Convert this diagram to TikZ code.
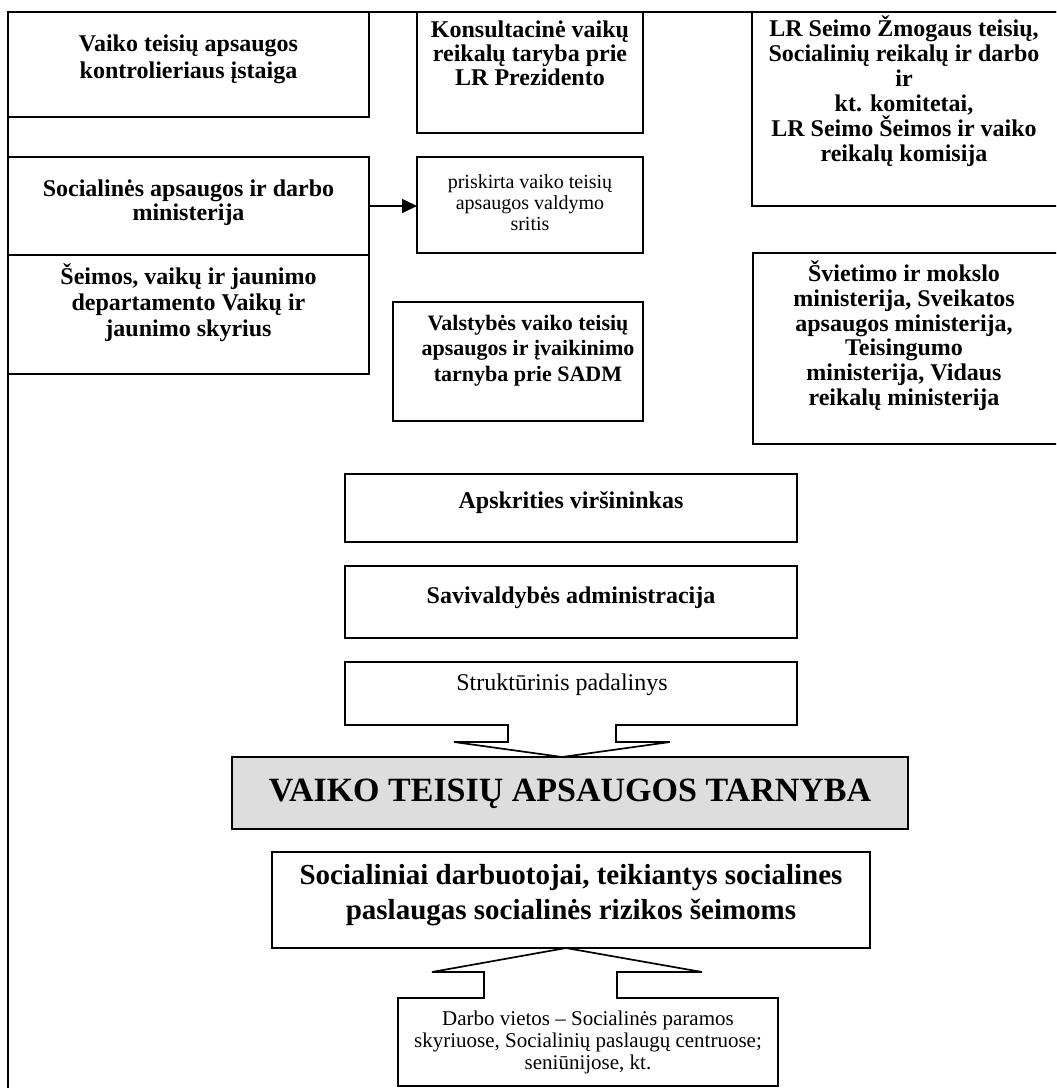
\documentclass[tikz,border=0pt]{standalone}
\usepackage{fontspec}
\setmainfont{Liberation Serif}
\usetikzlibrary{arrows.meta,fit}
\lineskiplimit=-30pt
\definecolor{tgray}{RGB}{221,221,221}
\newcommand\ftop{\rule{0pt}{0.95em}}
\begin{document}
\begin{tikzpicture}[x=0.5pt,y=-0.5pt,
  ln/.style={line width=0.85pt,line join=miter},
  bx/.style={draw,line width=0.85pt,inner sep=0pt,outer sep=0pt},
  hid/.style={inner sep=0pt,outer sep=0pt},
  bt/.style={inner sep=0pt,align=center,anchor=north,font=\fontsize{12}{#1}\selectfont\bfseries},
  bts/.style 2 args={inner sep=0pt,align=center,anchor=north,font=\fontsize{#1}{#2}\selectfont\bfseries},
  rt/.style 2 args={inner sep=0pt,align=center,anchor=north,font=\fontsize{#1}{#2}\selectfont}
]
\useasboundingbox (0,0) rectangle (1056,1088);
\clip (0,0) rectangle (1056,1088);
\fill[white] (0,0) rectangle (1056,1088);

% page frame
\draw[ln] (1070,12) -- (8,12) -- (8,1100);

% top row
\node[bx,fit={(8,12)(369,117)}] (vtak) {};
\node[bt=13.5pt] (vtakt) at (188.5,28.2) {\ftop Vaiko teisių apsaugos\\kontrolieriaus įstaiga};

\node[bx,fit={(417,12)(643,133)}] (konsult) {};
\node[bt=12pt] (konsultt) at (530,14.2) {\ftop Konsultacinė vaikų\\reikalų taryba prie\\LR Prezidento};

\node[bx,fit={(752,12)(1070,206)}] (lrs) {};
\node[bt=12.5pt] (lrst) at (904,13.2) {\ftop LR Seimo Žmogaus teisių,\\Socialinių reikalų ir darbo\\ir\\kt. komitetai,\\LR Seimo Šeimos ir vaiko\\reikalų komisija};

% second row
\node[bx,fit={(8,157)(369,255)}] (socmin) {};
\node[bt=12pt] (socmint) at (188.5,173.2) {\ftop Socialinės apsaugos ir darbo\\ministerija};

\node[bx,fit={(417,157)(643,253)}] (prisk) {};
\node[rt={10}{10.5}] (priskt) at (530,169) {\ftop priskirta vaiko teisių\\apsaugos valdymo\\sritis};

\draw[ln,-{Triangle[length=7.5pt,width=7pt]}] (socmin.east) -- (socmin.east -| prisk.west);

% third row
\node[bx,fit={(8,255)(369,374)}] (seimos) {};
\node[bt=13pt] (seimost) at (188.5,261.2) {\ftop Šeimos, vaikų ir jaunimo\\departamento Vaikų ir\\jaunimo skyrius};

\node[bx,fit={(393,302)(643,421)}] (valst) {};
\node[bts={11}{12.75}] (valstt) at (528,309.1) {\ftop Valstybės vaiko teisių\\apsaugos ir įvaikinimo\\tarnyba prie SADM};

\node[bx,fit={(753,253)(1070,444)}] (sviet) {};
\node[bt=12.4pt] (sviett) at (904,258.2) {\ftop Švietimo ir mokslo\\ministerija, Sveikatos\\apsaugos ministerija,\\Teisingumo\\ministerija, Vidaus\\reikalų ministerija};

% central column
\node[bx,fit={(345,474)(797,542)}] (apskr) {};
\node[bt=12pt] (apskrt) at (571,485.2) {\ftop Apskrities viršininkas};

\node[bx,fit={(345,566)(797,638)}] (saviv) {};
\node[bt=12pt] (savivt) at (571,580.2) {\ftop Savivaldybės administracija};

\node[hid,fit={(345,662)(797,725)}] (strukt) {};
\node[rt={12}{12}] (struktt) at (562,667.2) {\ftop Struktūrinis padalinys};

\node[bx,fill=tgray,fit={(232,757)(908,829)}] (title) {};
\node[bts={17}{18}] (titlet) at (570,768.7) {\ftop VAIKO TEISIŲ APSAUGOS TARNYBA};

% box with block arrow down to the title
\coordinate (stip) at (562,757);
\draw[ln] (strukt.north west) -- (strukt.north east) -- (strukt.south east)
  -- (616,725) -- (616,742) -- (670,742) -- (stip)
  -- (454,742) -- (508,742) -- (508,725) -- (strukt.south west) -- cycle;

% bottom
\node[bx,fit={(272,852)(870,948)}] (soc) {};
\node[bts={14.5}{17.5}] (soct) at (571,856.5) {\ftop Socialiniai darbuotojai, teikiantys socialines\\paslaugas socialinės rizikos šeimoms};

\node[hid,fit={(398,998)(778,1086)}] (darbo) {};
\node[rt={10.5}{11}] (darbot) at (588,1005) {\ftop Darbo vietos – Socialinės paramos\\skyriuose, Socialinių paslaugų centruose;\\seniūnijose, kt.};

% box with block arrow up to the social workers box
\coordinate (dtip) at (566,948);
\draw[ln] (darbo.north west) -- (484,998) -- (484,972) -- (432,972)
  -- (dtip) -- (702,972) -- (617,972) -- (617,998)
  -- (darbo.north east) -- (darbo.south east) -- (darbo.south west) -- cycle;
\end{tikzpicture}
\end{document}
